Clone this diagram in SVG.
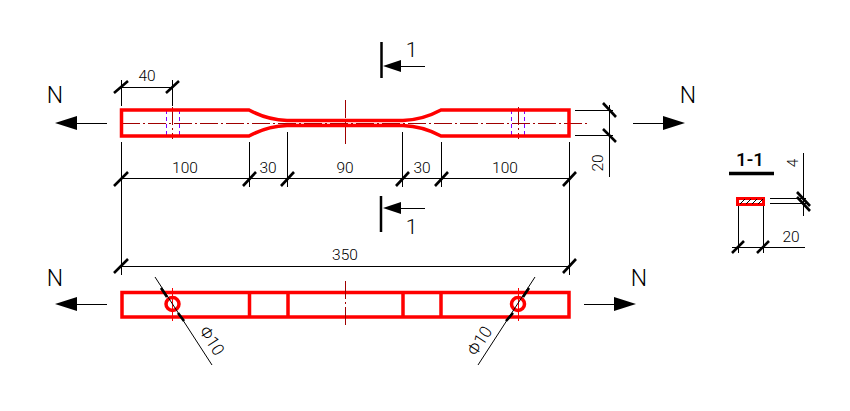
<svg xmlns="http://www.w3.org/2000/svg" width="850" height="411" viewBox="0 0 850 411">
<style>
.r{fill:none;stroke:#f00;stroke-width:3.5}
.d{fill:none;stroke:#000;stroke-width:1;shape-rendering:crispEdges}
.t{fill:none;stroke:#000;stroke-width:2.6}
.c{fill:none;stroke:#a00000;stroke-width:1;stroke-dasharray:18 3 2 3;shape-rendering:crispEdges}
.p{fill:none;stroke:#8000ff;stroke-width:1;stroke-dasharray:4 3;shape-rendering:crispEdges}
.h{fill:#000;stroke:none}
text{font-family:Roboto,"Liberation Sans",sans-serif;fill:#000;font-weight:300}
.n{font-size:15.5px;text-anchor:middle}
.f{font-size:17px;text-anchor:middle}
.l{font-size:23px;text-anchor:middle}
.s{font-size:21px;text-anchor:middle}
</style>
<rect width="850" height="411" fill="#fff"/>
<g id="connectors">
<path class="d" d="M107 123H77M633 123H663M107 304H77M584 304H614M401 66H425M401 208H425"/>
<path class="h" d="M55 123L77 116V130Z"/>
<path class="h" d="M685 123L663 116V130Z"/>
<path class="h" d="M55 304L77 297V311Z"/>
<path class="h" d="M636 304L614 297V311Z"/>
<path class="h" d="M383 66L401 60V72Z"/>
<path class="h" d="M383 208L401 202V214Z"/>
</g>
<g id="plan-specimen">
<path class="c" d="M122 123H587"/>
<path class="c" d="M345 100V147M172.500 107V139M518 107V139"/>
<path class="p" d="M166 110V136M179 110V136M511 110V136M524 110V136"/>
<path class="r" d="M249 110H121.500V136H249C262 129 272 126 287 125.500H403C418 126 428 129 441 136H569V110H441C428 117 418 120 403 120.500H287C272 120 262 117 249 110Z"/>
</g>
<g id="elevation-specimen">
<rect class="r" x="122" y="292.500" width="447" height="24.500"/>
<path class="r" d="M249.500 292V317M288 292V317M403 292V317M441 292V317"/>
<path class="c" d="M345 281V328"/>
<path d="M172.500 288V321M518 288V321" fill="none" stroke="#f00" stroke-width="1" shape-rendering="crispEdges"/>
<circle class="r" cx="172.500" cy="304" r="6.500"/>
<circle class="r" cx="518" cy="304" r="6.500"/>
</g>
<g id="leaders">
<path d="M155 277L212 365M535 277L478 365" fill="none" stroke="#000" stroke-width="1"/>
<path class="t" d="M161 288L167 297M178 313L184 321M529 288L523 297M513 313L506 321"/>
</g>
<g id="dimensions">
<path class="d" d="M121 80V106M172 80V106M121 87H172"/>
<path class="d" d="M121 142V275M569 142V275M249 142V187M287 132V187M402 132V187M441 142V187"/>
<path class="d" d="M121 178H569M121 266H569"/>
<path class="d" d="M575 110H613M575 135H613M609 105V177"/>
<path class="t" d="M114 93L128 81M166 93L179 81M114 186L128 172M243 186L256 172M281 186L294 172M396 186L409 172M435 186L448 172M563 186L576 172M114 273L128 259M563 273L576 259"/>
<path class="t" d="M603 103L616 117M603 129L616 142"/>
</g>
<g id="section-view">
<rect x="737.500" y="198.500" width="26" height="6" fill="#fff" stroke="#f00" stroke-width="3"/>
<path d="M740 204L745 199M746 204L751 199M752 204L757 199M758 204L763 199" stroke="#000" stroke-width="1" fill="none"/>
<path d="M729 173.500H774" stroke="#000" stroke-width="3.500"/>
<path class="d" d="M770 198H806M770 203H806M803 153V216M738 206V253M763 206V253M732 247H805"/>
<path class="t" d="M797 192L810 206M797 197L810 211M732 253L744 241M757 253L769 241"/>
</g>
<g id="section-marks">
<path d="M381.500 42V78M381 196V232" stroke="#000" stroke-width="2.500" fill="none"/>
</g>
<g id="labels">
<text class="l" x="55" y="103">N</text>
<text class="l" x="688" y="103">N</text>
<text class="l" x="55" y="286">N</text>
<text class="l" x="639" y="286">N</text>
<text class="s" x="411.500" y="57">1</text>
<text class="s" x="411.500" y="234">1</text>
<text class="n" x="147" y="81">40</text>
<text class="n" x="185" y="173">100</text>
<text class="n" x="268" y="173">30</text>
<text class="n" x="345" y="173">90</text>
<text class="n" x="422" y="173">30</text>
<text class="n" x="505" y="173">100</text>
<text class="n" x="345" y="260">350</text>
<text class="n" transform="translate(603 163) rotate(-90)">20</text>
<text class="f" transform="translate(207 344) rotate(57)">Φ10</text>
<text class="f" transform="translate(484.500 344) rotate(-57)">Φ10</text>
<text x="750" y="166" font-size="19" style="font-weight:500" text-anchor="middle">1-1</text>
<text class="n" transform="translate(798 163) rotate(-90)">4</text>
<text class="n" x="791" y="242">20</text>
</g>
</svg>
